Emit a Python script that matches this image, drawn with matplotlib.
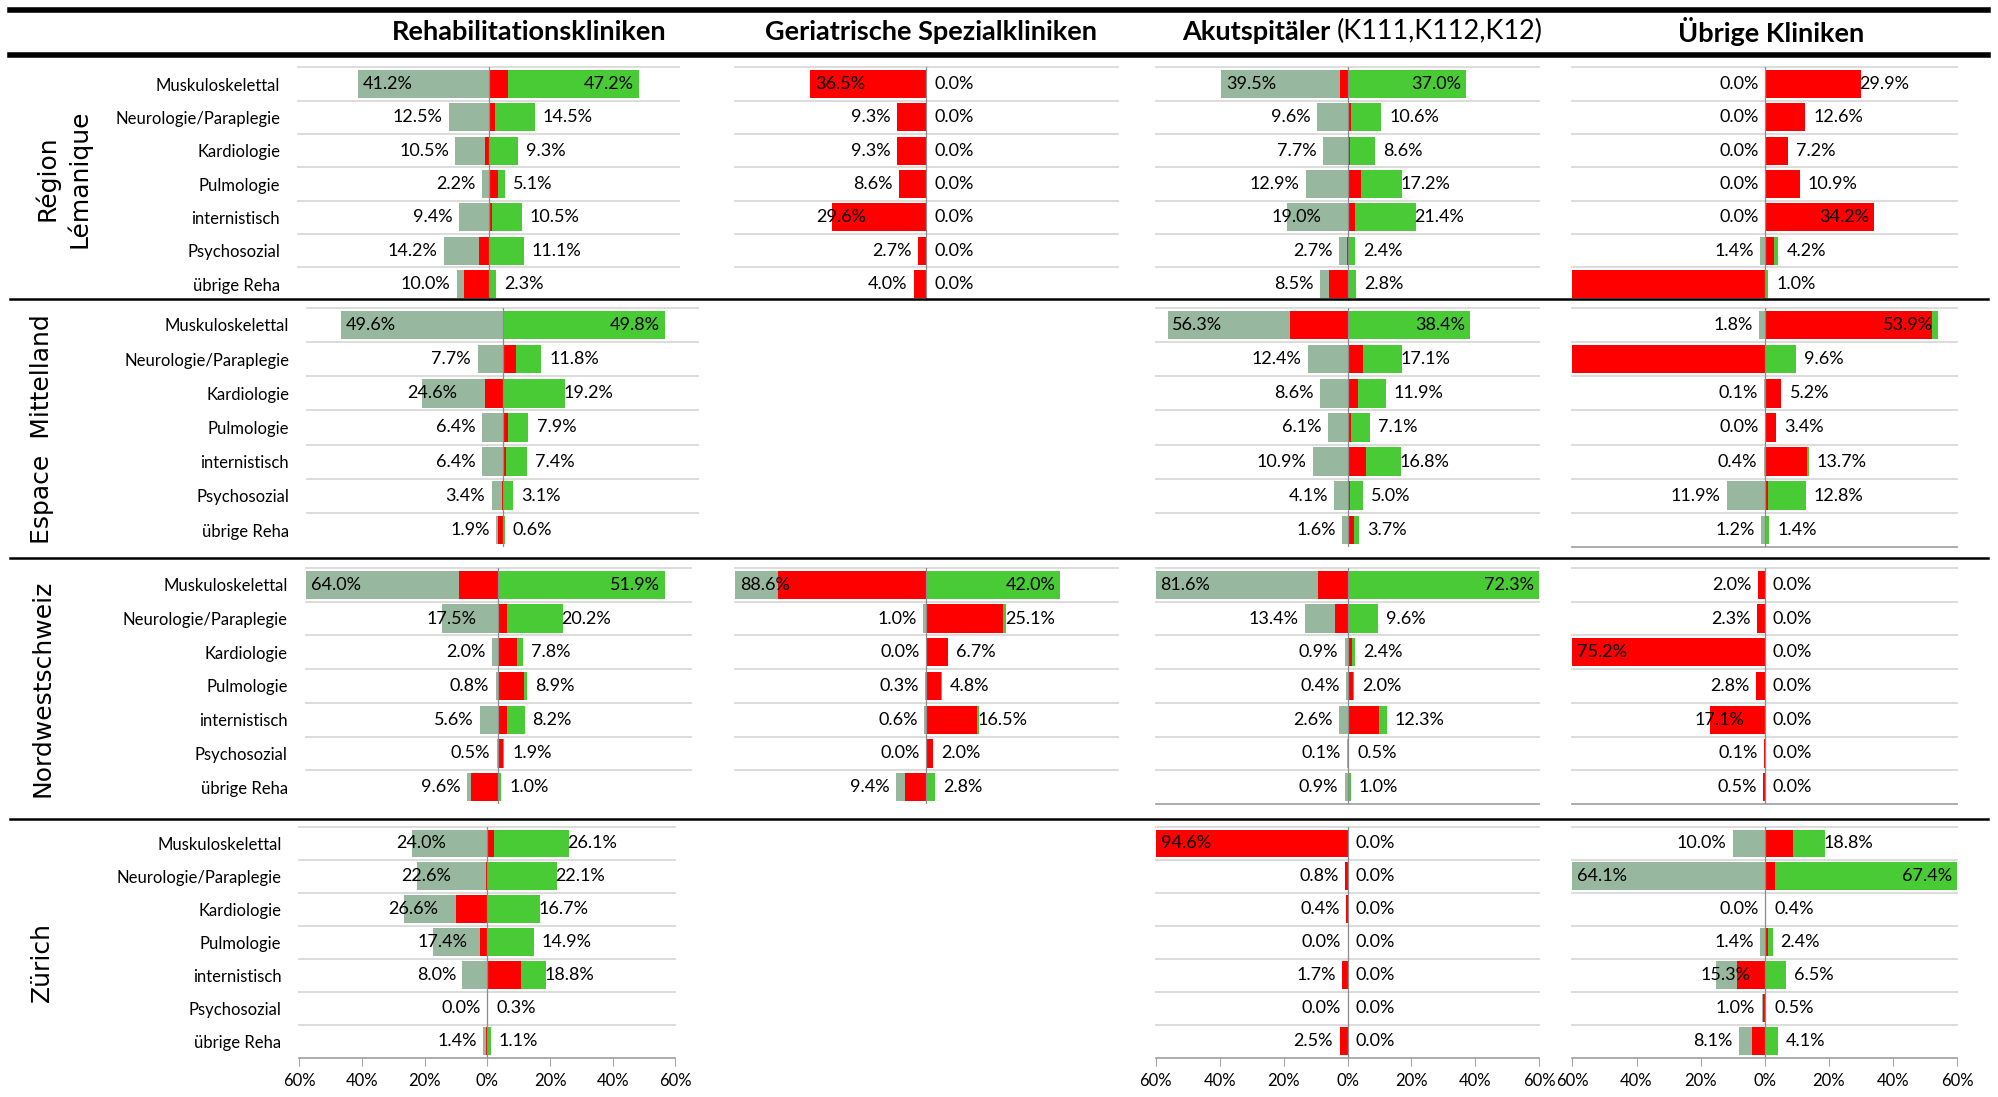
import matplotlib.pyplot as plt
from matplotlib.lines import Line2D

plt.rcParams['font.family'] = ['Lato', 'DejaVu Sans']

# Kategorien und Beschriftungen
kategorien = ['Muskuloskelettal', 'Neurologie/Paraplegie', 'Kardiologie', 'Pulmologie',
              'internistisch', 'Psychosozial', 'übrige Reha']
regionen = ['Région\nLémanique', 'Espace  Mittelland', 'Nordwestschweiz', 'Zürich']
achsen_werte = [-60, -40, -20, 0, 20, 40, 60]
achsen_labels = ['60%', '40%', '20%', '0%', '20%', '40%', '60%']

# grau = linker Balken, gruen = rechter Balken (in %), rot = gruen - grau
lem_reha_grau = [41.2, 12.5, 10.5, 2.2, 9.4, 14.2, 10.0]
lem_reha_gruen = [47.2, 14.5, 9.3, 5.1, 10.5, 11.1, 2.3]
lem_geri_grau = [36.5, 9.3, 9.3, 8.6, 29.6, 2.7, 4.0]
lem_geri_gruen = [0.0, 0.0, 0.0, 0.0, 0.0, 0.0, 0.0]
lem_akut_grau = [39.5, 9.6, 7.7, 12.9, 19.0, 2.7, 8.5]
lem_akut_gruen = [37.0, 10.6, 8.6, 17.2, 21.4, 2.4, 2.8]
lem_uebr_grau = [0.0, 0.0, 0.0, 0.0, 0.0, 1.4, 70.0]   # letzter Wert geschaetzt (ohne Label)
lem_uebr_gruen = [29.9, 12.6, 7.2, 10.9, 34.2, 4.2, 1.0]

em_reha_grau = [49.6, 7.7, 24.6, 6.4, 6.4, 3.4, 1.9]
em_reha_gruen = [49.8, 11.8, 19.2, 7.9, 7.4, 3.1, 0.6]
em_akut_grau = [56.3, 12.4, 8.6, 6.1, 10.9, 4.1, 1.6]
em_akut_gruen = [38.4, 17.1, 11.9, 7.1, 16.8, 5.0, 3.7]
em_uebr_grau = [1.8, 70.0, 0.1, 0.0, 0.4, 11.9, 1.2]   # 2. Wert geschaetzt (ohne Label)
em_uebr_gruen = [53.9, 9.6, 5.2, 3.4, 13.7, 12.8, 1.4]

nw_reha_grau = [64.0, 17.5, 2.0, 0.8, 5.6, 0.5, 9.6]
nw_reha_gruen = [51.9, 20.2, 7.8, 8.9, 8.2, 1.9, 1.0]
nw_geri_grau = [88.6, 1.0, 0.0, 0.3, 0.6, 0.0, 9.4]
nw_geri_gruen = [42.0, 25.1, 6.7, 4.8, 16.5, 2.0, 2.8]
nw_akut_grau = [81.6, 13.4, 0.9, 0.4, 2.6, 0.1, 0.9]
nw_akut_gruen = [72.3, 9.6, 2.4, 2.0, 12.3, 0.5, 1.0]
nw_uebr_grau = [2.0, 2.3, 75.2, 2.8, 17.1, 0.1, 0.5]
nw_uebr_gruen = [0.0, 0.0, 0.0, 0.0, 0.0, 0.0, 0.0]

zh_reha_grau = [24.0, 22.6, 26.6, 17.4, 8.0, 0.0, 1.4]
zh_reha_gruen = [26.1, 22.1, 16.7, 14.9, 18.8, 0.3, 1.1]
zh_akut_grau = [94.6, 0.8, 0.4, 0.0, 1.7, 0.0, 2.5]
zh_akut_gruen = [0.0, 0.0, 0.0, 0.0, 0.0, 0.0, 0.0]
zh_uebr_grau = [10.0, 64.1, 0.0, 1.4, 15.3, 1.0, 8.1]
zh_uebr_gruen = [18.8, 67.4, 0.4, 2.4, 6.5, 0.5, 4.1]

panels = {
    (0, 0): (lem_reha_grau, lem_reha_gruen), (0, 1): (lem_geri_grau, lem_geri_gruen),
    (0, 2): (lem_akut_grau, lem_akut_gruen), (0, 3): (lem_uebr_grau, lem_uebr_gruen),
    (1, 0): (em_reha_grau, em_reha_gruen),
    (1, 2): (em_akut_grau, em_akut_gruen), (1, 3): (em_uebr_grau, em_uebr_gruen),
    (2, 0): (nw_reha_grau, nw_reha_gruen), (2, 1): (nw_geri_grau, nw_geri_gruen),
    (2, 2): (nw_akut_grau, nw_akut_gruen), (2, 3): (nw_uebr_grau, nw_uebr_gruen),
    (3, 0): (zh_reha_grau, zh_reha_gruen),
    (3, 2): (zh_akut_grau, zh_akut_gruen), (3, 3): (zh_uebr_grau, zh_uebr_gruen),
}
ohne_label = {(0, 3, 6), (1, 3, 1)}

GRAU = '#97b89e'
GRUEN = '#48cb34'
ROT = '#ff0000'
FS = 12      # Kategorien, Achse
LFS = 13     # Datenlabels

# Layout in Einheiten des 1568x861-Bildes
W, H = 1568.0, 861.0
zeilen_y = [(52.9, 236.0), (241.6, 429.4), (445.8, 631.0), (649.0, 830.0)]
spalten_x = [[(234, 533), (241, 548), (240, 542), (235, 530)],
             [(577, 877)] * 4, [(907, 1208)] * 4, [(1234, 1536)] * 4]
unten_linie = {(1, 3), (2, 2), (2, 3), (3, 0), (3, 2), (3, 3)}
mit_ticks = {(3, 0), (3, 2), (3, 3)}

fig = plt.figure(figsize=(19.98, 10.97), dpi=100)


def label_links(ax, y, g):
    t = f'{g:.1f}%'
    if g >= 30:
        ax.text(max(-g, -60) + 1.5, y, t, ha='left', va='center', fontsize=LFS, zorder=6)
    elif g >= 15:
        ax.text(-g + 3, y, t, ha='center', va='center', fontsize=LFS, zorder=6)
    else:
        ax.text(-g - 2, y, t, ha='right', va='center', fontsize=LFS, zorder=6)


def label_rechts(ax, y, v):
    t = f'{v:.1f}%'
    if v >= 30:
        ax.text(min(v, 60) - 1.5, y, t, ha='right', va='center', fontsize=LFS, zorder=6)
    elif v >= 15:
        ax.text(v - 0.5, y, t, ha='left', va='center', fontsize=LFS, zorder=6)
    else:
        ax.text(v + 2.5, y, t, ha='left', va='center', fontsize=LFS, zorder=6)


for (r, c), (grau, gruen) in panels.items():
    x0, x1 = spalten_x[c][r]
    y0, y1 = zeilen_y[r]
    ax = fig.add_axes([x0 / W, 1 - y1 / H, (x1 - x0) / W, (y1 - y0) / H])
    pos = list(range(len(kategorien)))
    diff = [b - a for a, b in zip(grau, gruen)]
    ax.barh(pos, [-a for a in grau], height=0.84, color=GRAU, zorder=2)
    ax.barh(pos, gruen, height=0.84, color=GRUEN, zorder=2)
    ax.barh(pos, diff, height=0.84, color=ROT, zorder=3)
    ax.set_xlim(-60, 60)
    ax.set_ylim(6.5, -0.5)
    for s in ax.spines.values():
        s.set_visible(False)
    for b in range(7):
        ax.axhline(b - 0.5, color='#d9d9d9', lw=1.3, zorder=1, clip_on=False)
    if (r, c) in unten_linie:
        ax.axhline(6.5, color='#a6a6a6', lw=1.3, zorder=1, clip_on=False)
    ax.axvline(0, color='#8c8c8c', lw=0.9, zorder=4)

    for i in pos:
        if (r, c, i) not in ohne_label:
            label_links(ax, i, grau[i])
        label_rechts(ax, i, gruen[i])

    if c == 0:
        ax.set_yticks(pos)
        ax.set_yticklabels(kategorien, fontsize=FS)
        ax.tick_params(axis='y', length=0, pad=13)
    else:
        ax.set_yticks([])
    if (r, c) in mit_ticks:
        ax.set_xticks(achsen_werte)
        ax.set_xticklabels(achsen_labels, fontsize=FS)
        ax.tick_params(axis='x', length=6, color='#a6a6a6', pad=5)
    else:
        ax.set_xticks([])

# Regionen
region_pos = [(49, 140), (33, 337), (33, 540), (33, 755)]
for name, (x, y) in zip(regionen, region_pos):
    fig.text(x / W, 1 - y / H, name, rotation=90, ha='center', va='center',
             fontsize=18, family='DejaVu Sans', linespacing=1.3)

# Kopfzeile
hy = 1 - 25 / H
HFS = 19.5
fig.text(415 / W, hy, 'Rehabilitationskliniken', ha='center', va='center',
         fontsize=HFS, fontweight='bold')
fig.text(731 / W, hy, 'Geriatrische Spezialkliniken', ha='center', va='center',
         fontsize=HFS, fontweight='bold')
fig.text(1044 / W, hy, 'Akutspitäler', ha='right', va='center', fontsize=HFS, fontweight='bold')
fig.text(1049 / W, hy, '(K111,K112,K12)', ha='left', va='center', fontsize=HFS)
fig.text(1390 / W, hy, 'Übrige Kliniken', ha='center', va='center',
         fontsize=HFS, fontweight='bold')

# schwarze Trennlinien
for y, lw in [(8, 4), (43, 4), (235, 1.8), (438, 1.8), (643, 1.8)]:
    fig.add_artist(Line2D([8 / W, 1560 / W], [1 - y / H, 1 - y / H],
                          transform=fig.transFigure, color='black', lw=lw, zorder=10))

fig.savefig('out.png', dpi=100)
